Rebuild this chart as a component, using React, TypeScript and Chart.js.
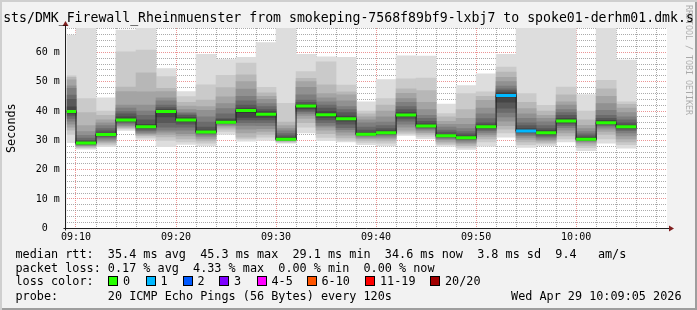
import React, { useEffect, useRef } from "react";
import { Chart, registerables } from "chart.js";

Chart.register(...registerables);

// ---------------- texts ----------------
const TITLE = "sts/DMK_Firewall_Rheinmuenster from smokeping-7568f89bf9-lxbj7 to spoke01-derhm01.dmk.s";
const Y_TITLE = "Seconds";
const WATERMARK = "RRDTOOL / TOBI OETIKER";
const LEGEND_MEDIAN = "median rtt:  35.4 ms avg  45.3 ms max  29.1 ms min  34.6 ms now  3.8 ms sd  9.4   am/s";
const LEGEND_LOSS = "packet loss: 0.17 % avg  4.33 % max  0.00 % min  0.00 % now";
const LEGEND_COLOR = "loss color:";
const LEGEND_PROBE = "probe:       20 ICMP Echo Pings (56 Bytes) every 120s";
const TIMESTAMP = "Wed Apr 29 10:09:05 2026";

// ---------------- axes (minutes after 09:00, milliseconds) ----------------
const X_MIN = 9 + 5 / 60; // 09:09:05
const X_MAX = 69 + 5 / 60; // 10:09:05
const X_GRID_MINUTES = [10, 12, 14, 16, 18, 20, 22, 24, 26, 28, 30, 32, 34, 36, 38, 40, 42, 44, 46, 48, 50, 52, 54, 56, 58, 60, 62, 64, 66, 68];
const Y_MAX = 68.3;
const Y_GRID_MS = [0, 2, 4, 6, 8, 10, 12, 14, 16, 18, 20, 22, 24, 26, 28, 30, 32, 34, 36, 38, 40, 42, 44, 46, 48, 50, 52, 54, 56, 58, 60, 62, 64, 66, 68];

// ---------------- data: one 120 s step per entry ----------------
const STEP_CENTRES = [9, 11, 13, 15, 17, 19, 21, 23, 25, 27, 29, 31, 33, 35, 37, 39, 41, 43, 45, 47, 49, 51, 53, 55, 57, 59, 61, 63, 65];
const MEDIAN_RTT = [39.8, 29.1, 32.0, 36.9, 34.6, 39.8, 36.9, 32.8, 36.2, 40.2, 38.9, 30.4, 41.7, 38.7, 37.4, 32.1, 32.6, 38.6, 34.9, 31.6, 30.9, 34.6, 45.3, 33.2, 32.6, 36.6, 30.4, 36.0, 34.6];
const LOST_PINGS = [0, 0, 0, 0, 0, 0, 0, 0, 0, 0, 0, 0, 0, 0, 0, 0, 0, 0, 0, 0, 0, 0, 1, 1, 0, 0, 0, 0, 0];
// the 20 sorted ping times (ms) of each step; values above the graph limit run off the top
const SORTED_PINGS = [
  [29.2, 32.0, 33.5, 34.5, 35.5, 36.5, 37.5, 38.3, 39.0, 39.5, 40.1, 41.4, 44.0, 45.4, 47.7, 48.6, 50.6, 51.5, 52.0, 65.9],
  [27.0, 27.4, 27.7, 28.0, 28.2, 28.4, 28.6, 28.8, 28.9, 29.0, 29.2, 29.6, 30.0, 30.8, 31.7, 33.0, 35.0, 39.5, 44.2, 72],
  [27.8, 28.4, 29.0, 29.5, 30.0, 30.5, 31.0, 31.3, 31.6, 31.8, 32.0, 32.5, 33.2, 34.0, 35.0, 36.0, 37.0, 38.5, 40.0, 44.5],
  [33.4, 33.9, 34.2, 34.6, 35.0, 35.5, 35.9, 36.3, 36.6, 36.8, 37.1, 38.0, 39.0, 39.8, 41.0, 42.0, 46.6, 48.2, 60.2, 67.6],
  [30.3, 31.0, 31.6, 32.0, 32.4, 32.8, 33.3, 33.8, 34.2, 34.5, 34.8, 35.5, 37.0, 38.5, 40.0, 42.0, 46.5, 53.0, 60.8, 72],
  [27.8, 30.0, 31.2, 32.0, 32.8, 33.5, 34.5, 36.0, 38.0, 39.5, 40.0, 40.5, 41.2, 42.0, 43.5, 44.5, 46.6, 47.7, 51.7, 54.5],
  [28.6, 29.5, 30.5, 31.5, 32.3, 33.5, 34.5, 35.5, 36.3, 36.8, 37.2, 37.8, 38.5, 39.0, 39.5, 40.5, 41.7, 43.0, 44.9, 46.6],
  [28.1, 29.0, 29.8, 30.5, 31.2, 31.8, 32.2, 32.5, 32.7, 32.8, 33.0, 33.5, 34.5, 36.2, 38.0, 40.2, 41.5, 43.7, 48.9, 59.3],
  [32.0, 33.0, 33.8, 34.5, 35.0, 35.4, 35.7, 36.0, 36.1, 36.2, 36.4, 37.0, 37.4, 39.0, 40.8, 42.5, 44.8, 48.0, 52.2, 57.5],
  [29.7, 30.5, 31.1, 32.5, 33.8, 35.1, 36.0, 37.0, 37.8, 39.5, 40.5, 41.0, 42.0, 43.5, 45.0, 47.5, 50.0, 52.3, 56.3, 58.3],
  [30.0, 31.1, 32.0, 33.0, 34.0, 35.0, 36.0, 37.0, 37.8, 38.6, 39.2, 39.8, 40.5, 41.5, 42.5, 44.0, 45.0, 46.2, 48.1, 63.3],
  [29.0, 29.3, 29.6, 29.8, 29.9, 30.0, 30.1, 30.2, 30.3, 30.35, 30.5, 31.0, 31.5, 32.3, 33.2, 34.0, 35.0, 36.2, 42.6, 72],
  [32.5, 34.5, 36.0, 37.5, 38.5, 39.2, 39.8, 40.3, 40.8, 41.4, 41.9, 42.3, 43.0, 43.7, 45.5, 48.1, 50.0, 51.1, 53.4, 59.3],
  [29.9, 31.0, 32.3, 33.5, 34.5, 35.1, 36.0, 37.0, 37.8, 38.5, 39.0, 39.8, 41.0, 42.0, 43.1, 44.5, 45.9, 48.9, 56.8, 58.5],
  [29.5, 30.0, 30.8, 31.8, 32.8, 33.6, 34.3, 35.5, 36.5, 37.2, 37.6, 38.3, 39.5, 40.5, 41.5, 43.5, 45.5, 46.5, 48.8, 58.3],
  [28.5, 29.3, 30.0, 30.6, 31.0, 31.4, 31.7, 31.9, 32.0, 32.1, 32.2, 32.6, 33.5, 34.5, 36.0, 37.0, 38.0, 39.0, 40.0, 43.1],
  [28.1, 29.0, 29.8, 30.5, 31.0, 31.5, 31.9, 32.2, 32.4, 32.5, 32.7, 33.2, 34.0, 35.0, 36.2, 38.0, 40.0, 42.0, 44.2, 50.7],
  [31.7, 32.2, 32.8, 33.5, 34.5, 35.5, 36.5, 37.3, 38.0, 38.4, 38.9, 39.5, 40.5, 41.5, 43.0, 44.2, 46.0, 47.6, 51.0, 58.8],
  [30.6, 31.3, 32.0, 32.6, 33.2, 33.7, 34.1, 34.4, 34.6, 34.8, 35.0, 35.6, 36.5, 37.5, 38.5, 40.5, 43.0, 47.0, 51.2, 58.7],
  [27.9, 28.5, 29.0, 29.6, 30.2, 30.6, 31.0, 31.2, 31.4, 31.5, 31.7, 32.0, 32.8, 33.5, 34.5, 35.5, 36.5, 38.0, 39.1, 42.4],
  [26.9, 27.6, 28.2, 28.8, 29.3, 29.8, 30.2, 30.5, 30.7, 30.8, 31.0, 31.5, 32.2, 33.0, 34.0, 35.5, 37.5, 40.5, 45.9, 48.7],
  [28.0, 29.5, 30.5, 31.3, 32.0, 32.7, 33.3, 33.8, 34.2, 34.5, 34.8, 35.3, 36.0, 37.4, 39.0, 41.0, 43.6, 45.0, 46.5, 52.7],
  [31.1, 32.5, 33.8, 35.0, 36.5, 38.0, 39.5, 41.0, 43.0, 44.8, 45.8, 46.3, 47.0, 47.6, 48.5, 50.0, 51.5, 53.3, 55.0, 59.3],
  [27.6, 28.5, 29.5, 30.3, 31.0, 31.6, 32.1, 32.6, 32.9, 33.1, 33.4, 34.0, 35.0, 36.0, 37.5, 39.0, 40.8, 43.0, 45.9, 72],
  [28.2, 28.8, 29.3, 29.8, 30.3, 30.8, 31.3, 31.8, 32.2, 32.5, 32.8, 33.3, 34.0, 35.0, 36.3, 37.5, 38.5, 40.0, 41.9, 72],
  [29.5, 30.5, 31.5, 32.5, 33.5, 34.3, 35.0, 35.6, 36.1, 36.5, 36.8, 37.5, 38.5, 39.5, 40.5, 42.0, 43.1, 45.5, 48.2, 72],
  [26.5, 27.5, 28.3, 29.0, 29.5, 29.8, 30.0, 30.1, 30.2, 30.3, 30.5, 31.0, 31.5, 32.2, 33.0, 34.0, 35.1, 37.0, 40.0, 45.6],
  [29.0, 30.5, 32.0, 33.0, 33.8, 34.5, 35.0, 35.4, 35.7, 35.9, 36.2, 36.8, 37.5, 38.5, 40.2, 42.5, 45.0, 47.6, 50.5, 72],
  [27.3, 28.5, 29.5, 30.5, 31.5, 32.5, 33.3, 33.8, 34.2, 34.5, 34.7, 35.2, 36.0, 37.0, 38.0, 39.5, 41.0, 42.3, 43.1, 57.4],
];

// ---------------- legend: loss colours ----------------
const LOSS_LABELS = ["0", "1", "2", "3", "4-5", "6-10", "11-19", "20/20"];
const LOSS_COLORS = ["#26ff00", "#00b8ff", "#0059ff", "#7e00ff", "#ff00ff", "#ff5500", "#ff0000", "#a10000"];

// ---------------- styles ----------------
const FONT = "'DejaVu Sans Mono', monospace";
const BAND_GREYS = [221, 202, 183, 164, 145, 126, 107, 88, 69, 50];
const GRID = "rgba(143,143,143,0.75)";
const MGRID = "rgba(222,79,79,0.6)";
const AXIS = "#1f1f1f";
const ARROW = "#801f1f";
const SWATCH_X = [108, 145.5, 182.5, 219, 256.5, 306.5, 365, 430];

const lossColor = (n: number) => {
  if (n <= 0) return LOSS_COLORS[0];
  if (n === 1) return LOSS_COLORS[1];
  if (n === 2) return LOSS_COLORS[2];
  if (n === 3) return LOSS_COLORS[3];
  if (n <= 5) return LOSS_COLORS[4];
  if (n <= 10) return LOSS_COLORS[5];
  if (n <= 19) return LOSS_COLORS[6];
  return LOSS_COLORS[7];
};

const fmtTime = (v: number) => {
  const h = 9 + Math.floor(v / 60);
  const m = v % 60;
  return `${String(h).padStart(2, "0")}:${String(m).padStart(2, "0")}`;
};

const rrdFrame = {
  id: "rrdFrame",
  beforeDraw(chart: any) {
    const { ctx, chartArea: a } = chart;
    ctx.save();
    ctx.fillStyle = "#ffffff";
    ctx.fillRect(a.left, a.top, a.right - a.left, a.bottom - a.top);
    ctx.restore();
  },
  afterDraw(chart: any) {
    const { ctx, chartArea: a } = chart;
    const x0 = Math.floor(a.left) + 0.5 - 1;
    const y0 = Math.floor(a.bottom) + 0.5;
    ctx.save();
    ctx.strokeStyle = AXIS;
    ctx.lineWidth = 1;
    ctx.beginPath();
    ctx.moveTo(x0 - 2, y0);
    ctx.lineTo(a.right + 2, y0);
    ctx.moveTo(x0, y0 + 2);
    ctx.lineTo(x0, a.top - 2);
    ctx.stroke();
    ctx.fillStyle = ARROW;
    ctx.beginPath();
    ctx.moveTo(x0, a.top - 7);
    ctx.lineTo(x0 - 3, a.top - 2);
    ctx.lineTo(x0 + 3, a.top - 2);
    ctx.closePath();
    ctx.fill();
    ctx.beginPath();
    ctx.moveTo(a.right + 7, y0);
    ctx.lineTo(a.right + 2, y0 - 3);
    ctx.lineTo(a.right + 2, y0 + 3);
    ctx.closePath();
    ctx.fill();
    ctx.restore();
  },
};

export default function App() {
  const ref = useRef<HTMLCanvasElement>(null);

  useEffect(() => {
    const canvas = ref.current;
    if (!canvas) return;

    const bands = BAND_GREYS.map((g, k) => ({
      type: "bar" as const,
      data: STEP_CENTRES.map((x, i) => ({ x, y: [SORTED_PINGS[i][k], SORTED_PINGS[i][19 - k]] })),
      backgroundColor: `rgb(${g},${g},${g})`,
      borderWidth: 0,
      grouped: false,
      barPercentage: 1,
      categoryPercentage: 1,
      clip: 0,
      order: 20 - k,
    }));

    const medianPoints = STEP_CENTRES.map((x, i) => ({ x, y: MEDIAN_RTT[i] }));

    const chart = new Chart(canvas, {
      type: "bar",
      data: {
        datasets: [
          ...bands,
          {
            type: "line" as const,
            data: medianPoints,
            stepped: "middle",
            borderColor: "#202020",
            borderWidth: 1,
            pointRadius: 0,
            clip: 0,
            order: 1,
          },
          {
            type: "line" as const,
            data: medianPoints,
            showLine: false,
            pointStyle: "line",
            pointRadius: (c: any) => {
              const s = c.chart.scales.x;
              return (s.getPixelForValue(2) - s.getPixelForValue(0)) / 2;
            },
            pointBorderWidth: 3,
            pointBorderColor: LOST_PINGS.map(lossColor),
            clip: 0,
            order: 0,
          },
        ] as any,
      },
      options: {
        responsive: false,
        animation: false,
        devicePixelRatio: 1,
        events: [],
        layout: { padding: { left: 0, top: 28, right: 30, bottom: 0 } },
        plugins: { legend: { display: false }, tooltip: { enabled: false }, title: { display: false } },
        scales: {
          x: {
            type: "linear",
            min: X_MIN,
            max: X_MAX,
            offset: false,
            z: 1,
            afterBuildTicks: (s: any) => {
              s.ticks = X_GRID_MINUTES.map((v) => ({ value: v }));
            },
            afterFit: (s: any) => {
              s.height = 81.67;
            },
            grid: {
              offset: false,
              drawTicks: false,
              lineWidth: 1,
              color: (c: any) => (c.tick && c.tick.value % 10 === 0 ? MGRID : GRID),
            },
            border: { display: false, dash: [1, 1] },
            ticks: {
              autoSkip: false,
              maxRotation: 0,
              padding: 3,
              color: "#000",
              font: { family: FONT, size: 10 },
              callback: (v: any) => (v % 10 === 0 ? fmtTime(v) : ""),
            },
          },
          y: {
            type: "linear",
            min: 0,
            max: Y_MAX,
            z: 1,
            afterBuildTicks: (s: any) => {
              s.ticks = Y_GRID_MS.map((v) => ({ value: v }));
            },
            afterFit: (s: any) => {
              s.width = 66.83;
            },
            grid: {
              drawTicks: false,
              lineWidth: 1,
              color: (c: any) => (c.tick && c.tick.value % 10 === 0 ? MGRID : GRID),
            },
            border: { display: false, dash: [1, 1] },
            title: {
              display: true,
              text: Y_TITLE,
              color: "#000",
              font: { family: FONT, size: 11.8 },
              padding: { top: 5, bottom: 0 },
            },
            ticks: {
              autoSkip: false,
              padding: 7,
              color: "#000",
              font: { family: FONT, size: 10 },
              callback: (v: any) => (v % 10 === 0 ? (v === 0 ? "0  " : `${v} m`) : ""),
            },
          },
        },
      } as any,
      plugins: [rrdFrame],
    });

    return () => chart.destroy();
  }, []);

  const text = (extra: React.CSSProperties): React.CSSProperties => ({
    position: "absolute",
    whiteSpace: "pre",
    fontSize: 11.8,
    lineHeight: "14px",
    ...extra,
  });

  return (
    <div
      style={{
        position: "absolute",
        left: 0,
        top: 0,
        width: 697,
        height: 310,
        overflow: "hidden",
        background: "#f2f2f2",
        boxShadow: "inset 2px 2px 0 #cfcfcf, inset -2px -2px 0 #9e9e9e",
        fontFamily: FONT,
        color: "#000",
      }}
    >
      <canvas ref={ref} width={697} height={310} style={{ position: "absolute", left: 0, top: 0 }} />
      <div style={{ position: "absolute", left: 0, width: 697, top: 10.4, textAlign: "center", whiteSpace: "pre", fontSize: 13.2, lineHeight: "16px" }}>
        {TITLE}
      </div>
      <div style={{ position: "absolute", left: 684, top: 5, writingMode: "vertical-rl", whiteSpace: "pre", fontSize: 8.3, lineHeight: "10px", color: "rgba(0,0,0,0.3)" }}>
        {WATERMARK}
      </div>
      <div style={text({ left: 15.5, top: 247.2 })}>{LEGEND_MEDIAN}</div>
      <div style={text({ left: 15.5, top: 260.6 })}>{LEGEND_LOSS}</div>
      <div style={text({ left: 15.5, top: 273.9 })}>{LEGEND_COLOR}</div>
      {LOSS_LABELS.map((label, i) => (
        <React.Fragment key={label}>
          <div
            style={{
              position: "absolute",
              left: SWATCH_X[i],
              top: 276,
              width: 10,
              height: 10,
              boxSizing: "border-box",
              border: "1px solid #000",
              background: LOSS_COLORS[i],
            }}
          />
          <div style={text({ left: SWATCH_X[i] + 15, top: 273.9 })}>{label}</div>
        </React.Fragment>
      ))}
      <div style={text({ left: 15.5, top: 288.9 })}>{LEGEND_PROBE}</div>
      <div style={text({ right: 15.5, top: 288.9 })}>{TIMESTAMP}</div>
    </div>
  );
}
